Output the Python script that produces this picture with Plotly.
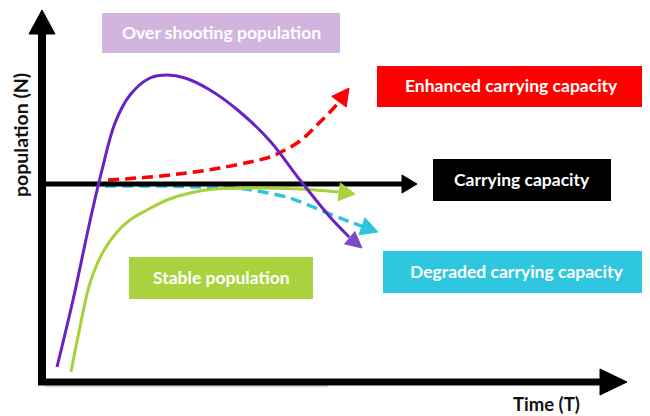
import plotly.graph_objects as go
import numpy as np

# ---- data (schematic: time T vs population N) ----
over_T = [57, 73, 90, 102, 115, 130, 150, 167, 185, 210, 240, 270, 300, 330, 350, 362]
over_N = [49, 116, 195, 246, 293, 321, 338, 341, 338, 326, 304, 275, 236, 199, 178, 168]

stable_T = [71, 80, 90, 103, 117, 130, 147, 167, 190, 215, 260, 300, 340, 355]
stable_N = [44, 89, 133, 164, 184, 196, 206, 216, 223, 227, 228, 227, 224, 222]

enh_T = [108, 150, 187, 220, 250, 270, 283, 300, 317, 330, 338, 349]
enh_N = [236, 239, 243, 248, 254, 259, 265, 275, 291, 304, 313, 328]

deg_T = [105, 160, 200, 237, 263, 290, 313, 335, 350, 378]
deg_N = [230, 230, 229, 228, 224, 218, 209, 200, 194, 184]

K_T = [42, 417]
K_N = [232, 232]

axis_origin = (42, 34)
axis_T_end = 627
axis_N_end = 406

labels = {
    "over": "Over shooting population",
    "enh": "Enhanced carrying capacity",
    "K": "Carrying capacity",
    "deg": "Degraded carrying capacity",
    "stable": "Stable population",
}

PURPLE = "#6a22c4"
PURPLE_HEAD = "#7b4cc4"
GREEN = "#a6d13c"
RED = "#ff0000"
CYAN = "#2ec4df"
BLACK = "#000000"

# page body has an 8px default margin: shift the plotting frame so 1 unit = 1 window pixel
PAGE_MARGIN = 8
W, H = 650, 416

fig = go.Figure()


def head(xs, ys, length, half):
    """Triangle at the end of a polyline, and the base point for the shaft."""
    tx, ty = xs[-1], ys[-1]
    px, py = xs[-2], ys[-2]
    d = np.array([tx - px, ty - py], float)
    d /= np.linalg.norm(d)
    n = np.array([-d[1], d[0]])
    base = np.array([tx, ty]) - length * d
    p1 = base + half * n
    p2 = base - half * n
    return [p1[0], tx, p2[0], p1[0]], [p1[1], ty, p2[1], p1[1]], base


def arrow_series(xs, ys, color, width, length, half, dash=None, head_color=None, spline=True):
    hx, hy, base = head(xs, ys, length, half)
    lx = list(xs[:-1]) + [base[0]]
    ly = list(ys[:-1]) + [base[1]]
    fig.add_trace(go.Scatter(x=lx, y=ly, mode="lines",
                             line=dict(color=color, width=width, dash=dash,
                                       shape="spline" if spline else "linear", smoothing=1.0),
                             hoverinfo="skip", showlegend=False))
    fig.add_trace(go.Scatter(x=hx, y=hy, mode="lines", fill="toself",
                             fillcolor=head_color or color,
                             line=dict(color=head_color or color, width=1),
                             hoverinfo="skip", showlegend=False))


# axes (with arrowheads) + faint shadow
ox, oy = axis_origin
fig.add_trace(go.Scatter(x=[ox + 3, 328], y=[oy - 3, oy - 3], mode="lines",
                         line=dict(color="#dcdcdc", width=5), hoverinfo="skip", showlegend=False))
arrow_series([ox, ox], [oy - 3, axis_N_end], BLACK, 8, 24, 13, spline=False)
arrow_series([ox - 4, axis_T_end], [oy, oy], BLACK, 7, 27, 13, spline=False)

# curves
arrow_series(deg_T, deg_N, CYAN, 3.5, 17, 9, dash="11px,6px")
arrow_series(enh_T, enh_N, RED, 3.5, 17, 9, dash="11px,6px")
arrow_series(K_T, K_N, BLACK, 5, 15, 9, spline=False)
arrow_series(stable_T, stable_N, GREEN, 3, 16, 9, head_color="#a8d43e")
arrow_series(over_T, over_N, PURPLE, 3, 16, 8, head_color=PURPLE_HEAD)

# label boxes
boxes = [
    ("over", 102, 340, 363, 403, "#d1b5df"),
    ("enh", 377, 646, 309, 350, "#ff0000"),
    ("K", 433, 611, 215, 257, "#000000"),
    ("deg", 383, 650, 123, 165, "#2fc6df"),
    ("stable", 129, 313, 117, 159, "#a9d33e"),
]
for key, x0, x1, y0, y1, col in boxes:
    fig.add_shape(type="rect", x0=x0, x1=x1, y0=y0, y1=y1, xref="x", yref="y",
                  fillcolor=col, line=dict(width=0), layer="above")
    fig.add_annotation(x=(x0 + x1) / 2, y=(y0 + y1) / 2 + 1, text="<b>" + labels[key] + "</b>",
                       showarrow=False, font=dict(family="Lato", size=17.5, color="#ffffff"))

fig.add_annotation(x=20, y=281, text="<b>population (N)</b>", textangle=-90, showarrow=False,
                   font=dict(family="Lato", size=19.5, color="#111111"))
fig.add_annotation(x=546, y=12, text="<b>Time (T)</b>", showarrow=False,
                   font=dict(family="Lato", size=18.5, color="#111111"))

fig.update_layout(
    width=W - PAGE_MARGIN, height=H - PAGE_MARGIN, margin=dict(l=0, r=0, t=0, b=0),
    paper_bgcolor="white", plot_bgcolor="white",
    xaxis=dict(range=[PAGE_MARGIN, W], visible=False, fixedrange=True),
    yaxis=dict(range=[0, H - PAGE_MARGIN], visible=False, fixedrange=True),
    showlegend=False,
)
fig.write_html("out.html")
